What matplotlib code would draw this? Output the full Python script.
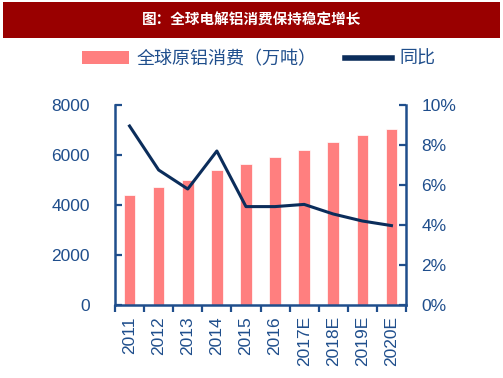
import numpy as np
import matplotlib.pyplot as plt
from matplotlib.patches import Rectangle
from matplotlib.lines import Line2D
from matplotlib.ticker import FuncFormatter

plt.rcParams['font.family'] = ['Liberation Sans', 'Noto Sans CJK SC', 'DejaVu Sans']

# data
years = ['2011', '2012', '2013', '2014', '2015', '2016',
         '2017E', '2018E', '2019E', '2020E']
consumption = [4410, 4720, 5000, 5390, 5650, 5930, 6200, 6510, 6790, 7030]  # 万吨
yoy = [8.95, 6.75, 5.8, 7.7, 4.92, 4.92, 5.03, 4.55, 4.2, 3.97]              # %

AX_BLUE = '#1F4E8C'
LINE_NAVY = '#0B2D5B'
BAR_RED = '#FF7F7F'
TITLE_RED = '#990000'

fig = plt.figure(figsize=(5.03, 3.78), dpi=100)

# title band
fig.patches.append(Rectangle((3 / 503, 1 - 38 / 378), 497 / 503, 36 / 378,
                             transform=fig.transFigure, facecolor=TITLE_RED,
                             edgecolor='none'))
fig.text(0.5, 1 - 20 / 378, '图：全球电解铝消费保持稳定增长', color='white',
         ha='center', va='center', fontsize=10.5, fontweight='bold',
         family=['Noto Sans CJK SC'])

ax = fig.add_axes([115 / 503, 1 - 305 / 378, 291 / 503, 200 / 378])
ax2 = ax.twinx()

x = np.arange(len(years))
ax.bar(x, consumption, width=0.4, color=BAR_RED, edgecolor='white', linewidth=0.5, zorder=2)
ax2.plot(x, yoy, color=LINE_NAVY, linewidth=2.2, zorder=3)

ax.set_xlim(-0.5, len(years) - 0.5)
ax.set_ylim(0, 8000)
ax2.set_ylim(0, 10)
ax.set_yticks([0, 2000, 4000, 6000, 8000])
ax2.set_yticks([0, 2, 4, 6, 8, 10])
ax2.yaxis.set_major_formatter(FuncFormatter(lambda v, p: f'{v:.0f}%'))

ax.set_xticks(x)
ax.set_xticklabels(years, rotation=90, va='top', ha='center')
ax.set_xticks(np.arange(-0.5, len(years)), minor=True)
ax.tick_params(axis='x', which='major', length=0, pad=8)
ax.tick_params(axis='x', which='minor', length=5, width=1.6, direction='out', color=AX_BLUE)

for a in (ax, ax2):
    a.spines['top'].set_visible(False)
    for s in ('left', 'right', 'bottom'):
        a.spines[s].set_color(AX_BLUE)
        a.spines[s].set_linewidth(1.8)
    a.tick_params(labelsize=12.5, labelcolor=AX_BLUE, color=AX_BLUE)

ax.spines['right'].set_visible(False)
ax2.spines['left'].set_visible(False)
ax2.spines['bottom'].set_visible(False)
ax.tick_params(axis='y', direction='in', length=5, width=1.6, pad=18)
ax2.tick_params(axis='y', direction='in', length=5, width=1.6, pad=11)

handles = [Rectangle((0, 0), 1, 1, facecolor=BAR_RED, edgecolor='none'),
           Line2D([], [], color=LINE_NAVY, linewidth=4)]
fig.legend(handles, ['全球原铝消费（万吨）', '同比'], loc='center',
           bbox_to_anchor=(259 / 503, 1 - 59 / 378), ncol=2, frameon=False,
           prop={'family': ['Noto Sans CJK SC'], 'size': 13},
           labelcolor=AX_BLUE, handlelength=2.6, handleheight=0.7,
           handletextpad=0.4, columnspacing=1.6)

fig.savefig('out.png', dpi=100)
